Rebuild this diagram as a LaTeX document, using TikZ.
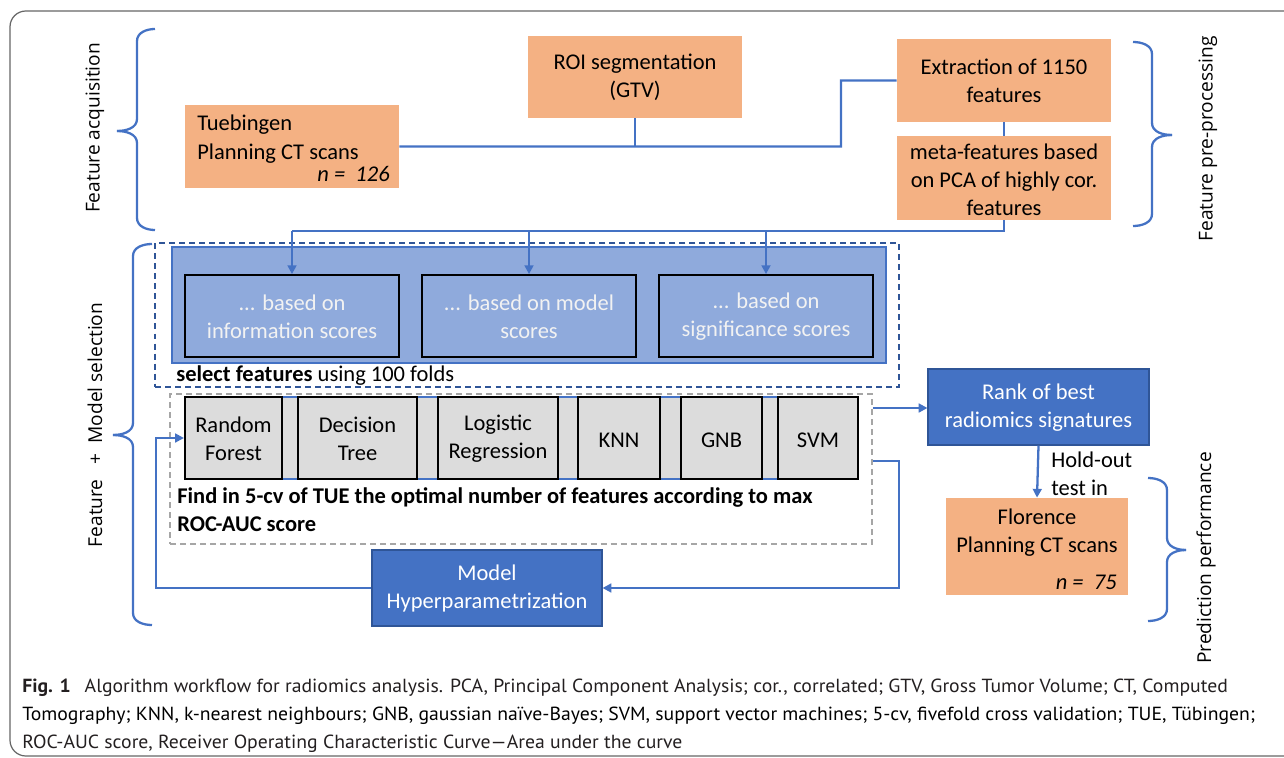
\documentclass[tikz,border=0pt]{standalone}
\usepackage{fontspec}
\setmainfont{Carlito}
\newfontfamily\capfont{PT Sans}
\newfontfamily\vfont{Open Sans}
\usetikzlibrary{arrows.meta,fit,calc}
\definecolor{org}{HTML}{F4B183}
\definecolor{bl}{HTML}{4472C4}
\definecolor{bld}{HTML}{2F5597}
\definecolor{selb}{HTML}{8FAADC}
\definecolor{mgray}{HTML}{DCDCDC}
\definecolor{txtl}{HTML}{F2F2F2}
\definecolor{framec}{HTML}{666666}
\definecolor{capc}{HTML}{231F20}
\newcommand\dfont{\fontsize{12.8pt}{15.9pt}\selectfont}
\newcommand\vlabfont{\vfont\fontsize{10.9pt}{13pt}\selectfont}
\newcommand\cfont{\capfont\fontsize{10.8pt}{13pt}\selectfont}
\newsavebox\capb
\newdimen\capw
\begin{document}
\sbox\capb{\cfont Tomography; KNN, k-nearest neighbours; GNB, gaussian naïve-Bayes; SVM, support vector machines; 5-cv, fivefold cross validation; TUE, Tübingen;}%
\capw=\wd\capb
\pgfmathsetmacro\capsc{701.6/\capw}%
\begin{tikzpicture}[x=0.02cm,y=-0.02cm,
  every node/.style={inner sep=0pt, font=\dfont},
  obox/.style={fill=org},
  bbox/.style={fill=bl, draw=bld, line width=0.6pt},
  sbox/.style={fill=selb, draw=black, line width=1pt},
  mbox/.style={fill=mgray, draw=black, line width=1.2pt},
  tone/.style={align=center, yshift=-0.04cm},
  ttwo/.style={align=center, yshift=-0.01cm},
  tthree/.style={align=center, yshift=-0.03cm},
  conn/.style={draw=bl, line width=1.3pt},
  arr/.style={conn, -{Triangle[length=5pt,width=5pt]}},
  brace/.style={draw=bl, line width=1.3pt},
  vlab/.style={rotate=90, font=\vlabfont},
  caption/.style={anchor=base west, font=\cfont, text=capc}]
\useasboundingbox (0,0) rectangle (1284,757);
\clip (0,0) rectangle (1284,757);
\draw[framec, line width=0.7pt, rounded corners=9pt] (10,11) rectangle (1320,756);

% ---------- feature acquisition ----------
\node[obox, fit={(185,105)(399,188)}] (tue) {};
\node[anchor=base west] (tue1) at (197,131) {Tuebingen};
\node[anchor=base west] (tue2) at (197,159) {Planning CT scans};
\node[anchor=base east] (tue3) at (390,181) {\itshape n =\ \ 126};
\node[obox, fit={(528,36)(742,118)}] (roi) {};
\node[ttwo] (roit) at (roi) {ROI segmentation\\(GTV)};
\node[obox, fit={(897,39)(1111,122)}] (ext) {};
\node[ttwo] (extt) at (ext) {Extraction of 1150\\features};
\node[obox, fit={(897,136)(1111,220)}] (meta) {};
\node[tthree] (metat) at (meta) {meta-features based\\on PCA of highly cor.\\features};
\coordinate (j1) at (841,146.5);
\draw[conn] (tue.east) -- (j1) |- (ext.west);
\draw[conn] (roi.south) -- (roi.south |- j1);
\draw[conn] (ext.south) -- (meta.north);

% ---------- feature selection ----------
\node[draw=bld, dashed, dash pattern=on 3.4pt off 2.3pt, line width=1pt, fit={(155,243)(899,387)}] (dbox) {};
\node[fill=selb, draw=bl, line width=1pt, fit={(172,247)(886,363)}] (sback) {};
\node[sbox, fit={(185,275)(399,357)}] (s1) {};
\node[ttwo, text=txtl] (s1t) at (s1) {... based on\\information scores};
\node[sbox, fit={(422,275)(636,357)}] (s2) {};
\node[ttwo, text=txtl] (s2t) at (s2) {... based on model\\scores};
\node[sbox, fit={(659,275)(873,357)}] (s3) {};
\node[ttwo, text=txtl] (s3t) at (s3) {... based on\\significance scores};
\node[anchor=west] (selt) at (176,376) {\textbf{select features} using 100 folds};
\coordinate (ly) at (0,231);
\draw[conn] (meta.south) |- (s1.north |- ly);
\draw[arr] (s1.north |- ly) -- (s1.north);
\draw[arr] (s2.north |- ly) -- (s2.north);
\draw[arr] (s3.north |- ly) -- (s3.north);

% ---------- models ----------
\node[draw=gray!70, dashed, dash pattern=on 3.4pt off 2.3pt, line width=0.9pt, fit={(170,394)(872,544)}] (gbox) {};
\node[fill=mgray, draw=bl, line width=0.8pt, fit={(185,397)(858,479)}] (mback) {};
\node[mbox, fit={(185,397)(282,479)}] (rf) {};
\node[ttwo] (rft) at (rf) {Random\\Forest};
\node[mbox, fit={(298,397)(417,479)}] (dt) {};
\node[ttwo] (dtt) at (dt) {Decision\\Tree};
\node[mbox, fit={(438,397)(558,479)}] (lr) {};
\node[ttwo] (lrt) at (lr) {Logistic\\Regression};
\node[mbox, fit={(578,397)(660,479)}] (knn) {};
\node[tone] (knnt) at (knn) {KNN};
\node[mbox, fit={(681,397)(762,479)}] (gnb) {};
\node[tone] (gnbt) at (gnb) {GNB};
\node[mbox, fit={(778,397)(858,479)}] (svm) {};
\node[tone] (svmt) at (svm) {SVM};
\node[anchor=west, align=left, font=\dfont\bfseries] (findt) at (177,510) {Find in 5-cv of TUE the optimal number of features according to max\\ROC-AUC score};

% ---------- ranking / test ----------
\node[bbox, fit={(928,369)(1149,445)}] (rank) {};
\node[ttwo, text=white] (rankt) at (rank) {Rank of best\\radiomics signatures};
\node[obox, fit={(946,498)(1128,595)}] (flo) {};
\node[anchor=base] (flo1) at (1037,524) {Florence};
\node[anchor=base] (flo2) at (1037,552) {Planning CT scans};
\node[anchor=base east] (flo3) at (1117,589) {\itshape n =\ \ 75};
\node[anchor=west, align=left] (hold) at (1051,474) {Hold-out\\test in};
\coordinate (r1) at (0,408);
\draw[arr] (gbox.east |- r1) -- (rank.west |- r1);
\draw[arr] (rank.south) -- (flo.north);

\node[bbox, fit={(372,550)(602,626)}] (hyp) {};
\node[ttwo, text=white] (hypt) at (hyp) {Model\\Hyperparametrization};
\coordinate (c1) at (899,461);
\draw[arr] (gbox.east |- c1) -- (c1) |- (hyp.east);
\coordinate (c2) at (156,588);
\draw[arr] (hyp.west) -- (c2) |- (rf.west);

% ---------- braces ----------
\draw[brace] (155,29) to[out=180,in=90] (137,41) -- (137,119) to[out=-90,in=0] (117,131);
\draw[brace] (155,230) to[out=180,in=-90] (137,218) -- (137,143) to[out=90,in=0] (117,131);
\draw[brace] (152,244) to[out=180,in=90] (133,256) -- (133,423) to[out=-90,in=0] (113,435);
\draw[brace] (152,625) to[out=180,in=-90] (133,613) -- (133,447) to[out=90,in=0] (113,435);
\draw[brace] (1133,42) to[out=0,in=90] (1152,54) -- (1152,123) to[out=-90,in=180] (1172,135);
\draw[brace] (1133,226) to[out=0,in=-90] (1152,214) -- (1152,147) to[out=90,in=180] (1172,135);
\draw[brace] (1148,478) to[out=0,in=90] (1167,490) -- (1167,538) to[out=-90,in=180] (1186,550);
\draw[brace] (1148,621) to[out=0,in=-90] (1167,609) -- (1167,562) to[out=90,in=180] (1186,550);

\node[vlab] (la) at (95,128) {Feature acquisition};
\node[vlab] (lb) at (95,425) {Feature\ \ \ +\ \ Model selection};
\node[vlab] (lc) at (1208,139) {Feature pre-processing};
\node[vlab] (ld) at (1206,558) {Prediction performance};

% ---------- caption ----------
\node[caption] (cap1) at (22,692) {\scalebox{\capsc}[1]{\textbf{Fig. 1}\hspace{0.7em}Algorithm workflow for radiomics analysis. PCA, Principal Component Analysis; cor., correlated; GTV, Gross Tumor Volume; CT, Computed}};
\node[caption] (cap2) at (22,720) {\scalebox{\capsc}[1]{\usebox\capb}};
\node[caption] (cap3) at (22,748) {\scalebox{\capsc}[1]{ROC-AUC score, Receiver Operating Characteristic Curve—Area under the curve}};
\end{tikzpicture}
\end{document}
